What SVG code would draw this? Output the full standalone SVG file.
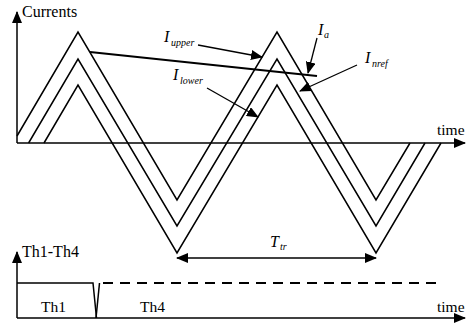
<svg xmlns="http://www.w3.org/2000/svg" width="472" height="323" viewBox="0 0 472 323">
<defs>
<marker id="ah" markerUnits="userSpaceOnUse" markerWidth="12" markerHeight="10" viewBox="0 0 12 10" refX="11" refY="5" orient="auto-start-reverse">
<path d="M0,0 L12,5 L0,10 Z" fill="#000"/>
</marker>
</defs>
<style>
.ax{stroke:#000;stroke-width:1.5;fill:none}
.wave{stroke:#000;stroke-width:1.5;fill:none;stroke-linejoin:miter}
.lbl{stroke:#000;stroke-width:1.3;fill:none}
.t{font-family:"Liberation Serif","Times New Roman",serif;font-size:15.5px;fill:#000}
.c{font-size:16px}
.i{font-family:"Liberation Serif","Times New Roman",serif;font-style:italic;font-size:16px;fill:#000}
.s{font-family:"Liberation Serif","Times New Roman",serif;font-style:italic;font-size:10px;fill:#000}
</style>
<g id="axes">
<line class="ax" x1="17" y1="143" x2="17" y2="12" marker-end="url(#ah)"/>
<line class="ax" x1="17" y1="143" x2="465" y2="143" marker-end="url(#ah)"/>
<line class="ax" x1="17" y1="318" x2="17" y2="252" marker-end="url(#ah)"/>
<line class="ax" x1="17" y1="318" x2="465" y2="318" marker-end="url(#ah)"/>
<text class="t c" x="22" y="17">Currents</text>
<text class="t" x="437" y="135">time</text>
<text class="t c" x="22" y="257">Th1-Th4</text>
<text class="t" x="437" y="312">time</text>
</g>
<g id="waves">
<polyline id="upper" class="wave" points="17,136 78,32 177,200 277,32 376,200 410,143"/>
<polyline id="middle" class="wave" points="28.6,143 78,59 177,226 277,59 376,226 425,143"/>
<polyline id="lower" class="wave" points="44,143 78,85 177,253 277,85 376,253 441,143"/>
<line id="ia-line" x1="90" y1="52" x2="317" y2="76" stroke="#000" stroke-width="2"/>
</g>
<g id="label-upper">
<text class="i" x="164" y="42">I</text><text class="s" x="171" y="46">upper</text>
</g>
<g id="label-lower">
<text class="i" x="173" y="80">I</text><text class="s" x="180" y="84">lower</text>
</g>
<g id="label-a">
<text class="i" x="318" y="35">I</text><text class="s" x="324" y="38">a</text>
</g>
<g id="label-nref">
<text class="i" x="365" y="63">I</text><text class="s" x="372" y="67">nref</text>
</g>
<g id="label-ttr">
<text class="i" x="270" y="247">T</text><text class="s" x="280" y="250">tr</text>
</g>
<g id="thyristor">
<polyline class="ax" points="17,283 93,283 96.5,318"/>
<line class="ax" x1="99.5" y1="283" x2="96" y2="318"/>
<line x1="103" y1="283" x2="436" y2="283" stroke="#000" stroke-width="2.2" stroke-dasharray="10,7"/>
<text class="t" x="41" y="312">Th1</text>
<text class="t" x="140" y="312">Th4</text>
</g>
<g id="connectors">
<line class="lbl" x1="198" y1="45" x2="262" y2="57" marker-end="url(#ah)"/>
<line class="lbl" x1="207" y1="88" x2="258" y2="117" marker-end="url(#ah)"/>
<line class="lbl" x1="317" y1="38" x2="308" y2="73" marker-end="url(#ah)"/>
<line class="lbl" x1="357" y1="65" x2="300" y2="91" marker-end="url(#ah)"/>
<line class="lbl" x1="177" y1="258" x2="376" y2="258" marker-start="url(#ah)" marker-end="url(#ah)"/>
</g>
</svg>
